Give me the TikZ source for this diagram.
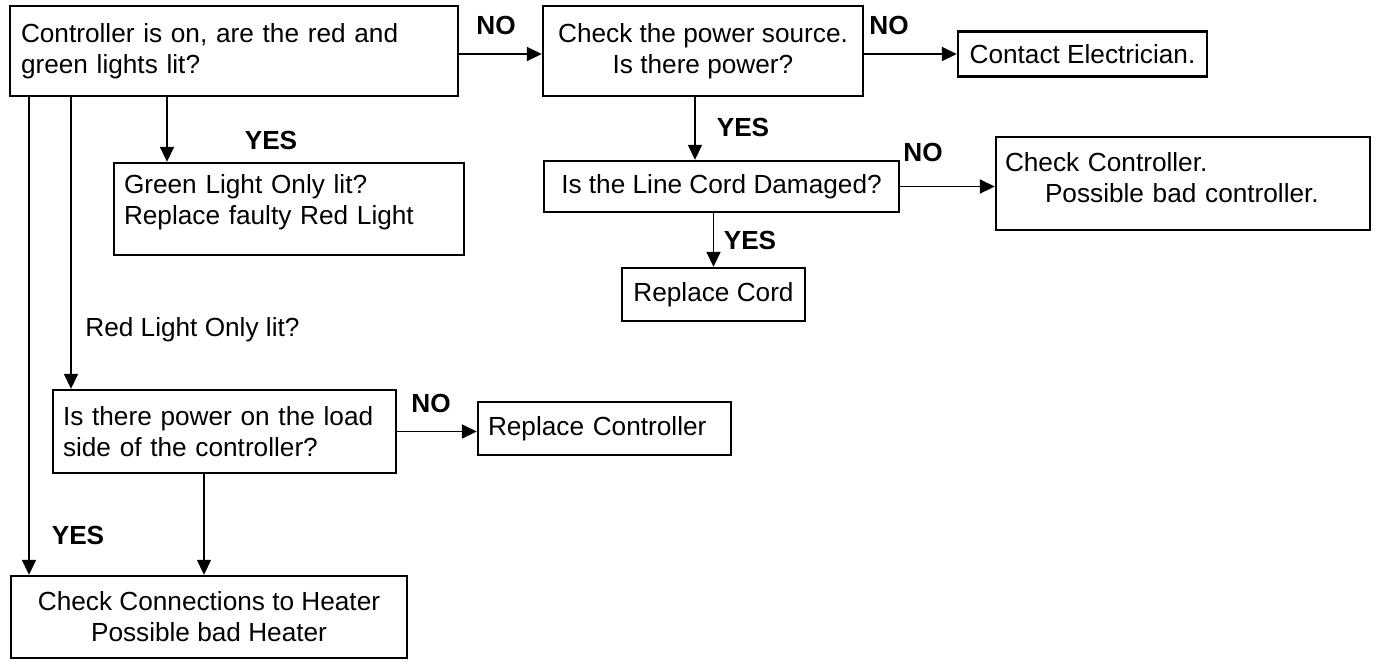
\documentclass[tikz,border=0pt]{standalone}
\usepackage{fontspec}
\setmainfont{Liberation Sans}
\usepackage{tikz}
\usetikzlibrary{arrows.meta}

\tikzset{
  box/.style={draw, line width=1.2pt, inner sep=0pt, font=\fontsize{13.1}{15.5}\selectfont},
  tag/.style={font=\fontsize{13.1}{15.5}\selectfont\bfseries, inner sep=0pt},
  link/.style={->, line width=0.85pt}
}

\begin{document}
\begin{tikzpicture}[x=0.5pt,y=-0.5pt,>={Triangle[length=7.5pt,width=7pt]}]

	\useasboundingbox (0,0) rectangle (1377,661);

	% boxes
	\node [box, minimum width=224pt, minimum height=45pt, text width=213pt, align=left] (start) at (234,51)
		{Controller is on, are the red and\\green lights lit?};
	\node [box, minimum width=160pt, minimum height=45pt, align=center] (source) at (703,51)
		{Check the power source.\\Is there power?};
	\node [box, minimum width=124.5pt, minimum height=22.5pt] (elec) at (1082.5,54)
		{Contact Electrician.};
	\node [box, minimum width=177.5pt, minimum height=25.5pt] (cord) at (721.5,186.5)
		{Is the Line Cord Damaged?};
	\node [box, minimum width=187pt, minimum height=46.5pt, text width=178pt, align=left, text depth=22pt] (badctl) at (1183,183.5)
		{Check Controller.\\\hspace*{20pt}Possible bad controller.};
	\node [box, minimum width=91.5pt, minimum height=26.5pt] (newcord) at (713.5,294.5)
		{Replace Cord};
	\node [box, minimum width=175pt, minimum height=46pt, text width=165pt, align=left, text depth=25pt] (green) at (289,209)
		{Green Light Only lit?\\Replace faulty Red Light};
	\node [box, minimum width=171.5pt, minimum height=41.5pt, text width=161.5pt, align=left] (load) at (224.5,431.5)
		{Is there power on the load\\side of the controller?};
	\node [box, minimum width=126.5pt, minimum height=26.5pt, text width=116.5pt, align=left] (newctl) at (604.5,428.5)
		{Replace Controller};
	\node [box, minimum width=198pt, minimum height=41pt, align=center] (heater) at (209,617)
		{Check Connections to Heater\\Possible bad Heater};

	% labels
	\node [tag] (no1) at (496,25) {NO};
	\node [tag] (no2) at (889,25) {NO};
	\node [tag] (no3) at (923,152) {NO};
	\node [tag] (no4) at (431,403) {NO};
	\node [tag] (yes1) at (271,140) {YES};
	\node [tag] (yes2) at (743,127) {YES};
	\node [tag] (yes3) at (750,240) {YES};
	\node [tag] (yes4) at (78,535) {YES};
	\node [font=\fontsize{13.1}{15.5}\selectfont, inner sep=0pt, anchor=west] (redonly) at (85,330) {Red Light Only lit?};

	% connectors
	\draw [link] (start.east |- 0,54) -- (source.west |- 0,54);
	\draw [link] (source.east |- elec.west) -- (elec.west);
	\draw [link] (source.south -| 695,0) -- (cord.north -| 695,0);
	\draw [link] (cord.east) -- (badctl.west |- cord.east);
	\draw [link] (cord.south -| newcord.north) -- (newcord.north);

	\draw [link] (start.south -| 29,0) -- (heater.north -| 29,0);
	\draw [link] (start.south -| 71,0) -- (load.north -| 71,0);
	\draw [link] (start.south -| 167,0) -- (green.north -| 167,0);

	\draw [link] (load.east) -- (newctl.west |- load.east);
	\draw [link] (load.south -| 204,0) -- (heater.north -| 204,0);

\end{tikzpicture}
\end{document}
